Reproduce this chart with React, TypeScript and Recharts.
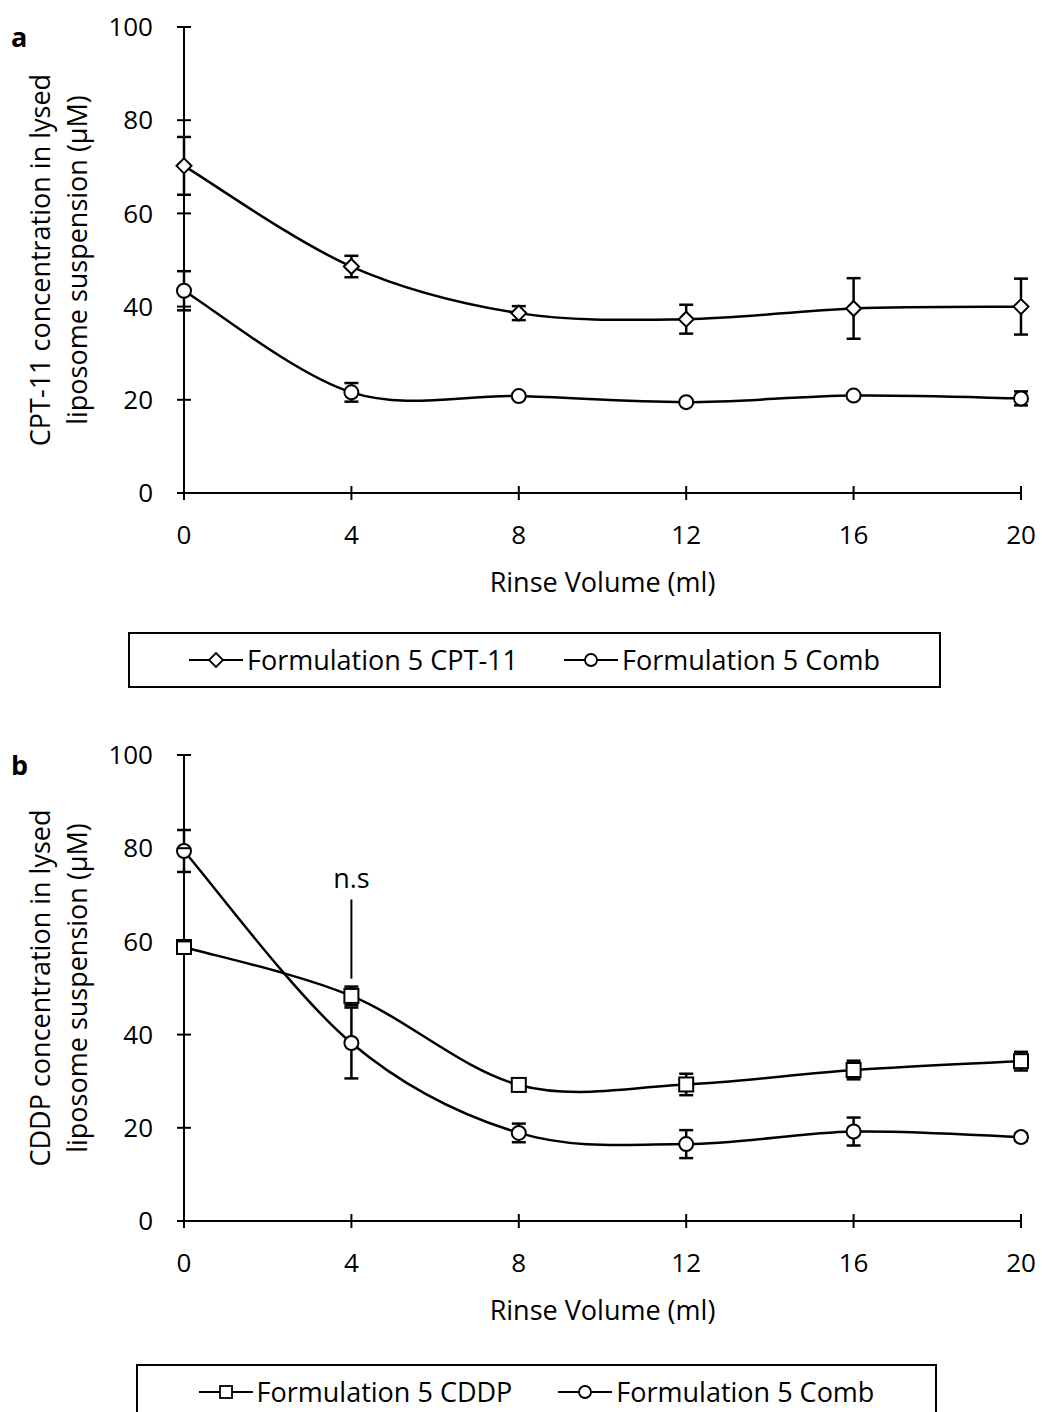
import React from "react";
import {
  LineChart,
  Line,
  XAxis,
  YAxis,
  ErrorBar,
  ReferenceLine,
  ReferenceDot,
} from "recharts";

const rinseVolume = [0, 4, 8, 12, 16, 20];
const xTicks = [0, 4, 8, 12, 16, 20];
const yTicks = [0, 20, 40, 60, 80, 100];

// panel a
const cpt11 = [70.2, 48.6, 38.6, 37.3, 39.6, 40.0];
const cpt11Err = [6.2, 2.3, 1.5, 3.1, 6.5, 6.0];
const combA = [43.4, 21.6, 20.8, 19.5, 20.9, 20.3];
const combAErr = [4.2, 2.0, 0.6, 0.4, 0.5, 1.5];

// panel b
const cddp = [58.8, 48.3, 29.2, 29.3, 32.4, 34.3];
const cddpErr = [1.0, 2.0, 0.8, 2.3, 2.0, 2.0];
const combB = [79.4, 38.2, 18.9, 16.5, 19.2, 18.0];
const combBErr = [4.5, 7.6, 2.0, 3.0, 3.0, 0.8];

const dataA = rinseVolume.map((x, i) => ({
  x,
  cpt11: cpt11[i],
  cpt11Err: cpt11Err[i],
  comb: combA[i],
  combErr: combAErr[i],
}));
const dataB = rinseVolume.map((x, i) => ({
  x,
  cddp: cddp[i],
  cddpErr: cddpErr[i],
  comb: combB[i],
  combErr: combBErr[i],
}));

const FONT = "'Open Sans', sans-serif";

// smoothed line like a spreadsheet "smoothed line"
const smooth = (context: any) => {
  let pts: number[][] = [];
  return {
    areaStart() {},
    areaEnd() {},
    lineStart() {
      pts = [];
    },
    point(x: number, y: number) {
      pts.push([+x, +y]);
    },
    lineEnd() {
      const n = pts.length;
      if (!n) return;
      context.moveTo(pts[0][0], pts[0][1]);
      for (let i = 0; i < n - 1; i++) {
        const p0 = pts[Math.max(i - 1, 0)];
        const p1 = pts[i];
        const p2 = pts[i + 1];
        const p3 = pts[Math.min(i + 2, n - 1)];
        context.bezierCurveTo(
          p1[0] + (p2[0] - p0[0]) / 6,
          p1[1] + (p2[1] - p0[1]) / 6,
          p2[0] - (p3[0] - p1[0]) / 6,
          p2[1] - (p3[1] - p1[1]) / 6,
          p2[0],
          p2[1]
        );
      }
    },
  };
};

const Diamond = (props: any) => {
  const { cx, cy, index } = props;
  const r = 7.5;
  return (
    <path
      key={`d-${index}`}
      d={`M${cx},${cy - r}L${cx + r},${cy}L${cx},${cy + r}L${cx - r},${cy}Z`}
      fill="#fff"
      stroke="#000"
      strokeWidth={2}
    />
  );
};
const Circle = (props: any) => {
  const { cx, cy, index } = props;
  return <circle key={`c-${index}`} cx={cx} cy={cy} r={7} fill="#fff" stroke="#000" strokeWidth={2} />;
};
const Square = (props: any) => {
  const { cx, cy, index } = props;
  return (
    <rect key={`s-${index}`} x={cx - 7} y={cy - 7} width={14} height={14} fill="#fff" stroke="#000" strokeWidth={2} />
  );
};

const YTick = (props: any) => {
  const { x, y, payload } = props;
  return (
    <g>
      <line x1={x - 7} x2={x + 7} y1={y} y2={y} stroke="#000" strokeWidth={2} />
      <text x={x - 31} y={y} dy="0.35em" textAnchor="end" fontSize={26} fontFamily={FONT} fill="#000">
        {payload.value}
      </text>
    </g>
  );
};
const XTick = (props: any) => {
  const { x, y, payload } = props;
  return (
    <g>
      <line x1={x} x2={x} y1={y - 7} y2={y + 7} stroke="#000" strokeWidth={2} />
      <text x={x} y={y + 42} dy="0.35em" textAnchor="middle" fontSize={26} fontFamily={FONT} fill="#000">
        {payload.value}
      </text>
    </g>
  );
};

const yLabel = (line1: string, line2: string, cy: number) => () =>
  (
    <g fontSize={27} fontFamily={FONT} fill="#000">
      <text x={50} y={cy} transform={`rotate(-90 50 ${cy})`} textAnchor="middle">
        {line1}
      </text>
      <text x={87} y={cy} transform={`rotate(-90 87 ${cy})`} textAnchor="middle">
        {line2}
      </text>
    </g>
  );

const xLabel = (cy: number) => () =>
  (
    <text x={602.5} y={cy} textAnchor="middle" dominantBaseline="central" fontSize={27} fontFamily={FONT} fill="#000">
      Rinse Volume (ml)
    </text>
  );

const LegendIcon = ({ shape }: { shape: string }) => (
  <svg width={54} height={20} style={{ marginRight: 4 }}>
    <line x1={0} x2={54} y1={10} y2={10} stroke="#000" strokeWidth={2} />
    {shape === "diamond" && <path d="M27,3L34,10L27,17L20,10Z" fill="#fff" stroke="#000" strokeWidth={1.8} />}
    {shape === "circle" && <circle cx={27} cy={10} r={6} fill="#fff" stroke="#000" strokeWidth={1.8} />}
    {shape === "square" && <rect x={21} y={4} width={12} height={12} fill="#fff" stroke="#000" strokeWidth={1.8} />}
  </svg>
);

const LegendBox = ({
  items,
  left,
  top,
  width,
}: {
  items: { shape: string; label: string }[];
  left: number;
  top: number;
  width: number;
}) => (
  <div
    style={{
      position: "absolute",
      left,
      top,
      width,
      height: 56,
      boxSizing: "border-box",
      border: "2px solid #000",
      display: "flex",
      alignItems: "center",
      justifyContent: "center",
      gap: 46,
      fontFamily: FONT,
      fontSize: 27,
      lineHeight: "30px",
      color: "#000",
    }}
  >
    {items.map((it) => (
      <div key={it.label} style={{ display: "flex", alignItems: "center" }}>
        <LegendIcon shape={it.shape} />
        <span>{it.label}</span>
      </div>
    ))}
  </div>
);

const panelLetter = (letter: string, top: number) => (
  <div
    style={{
      position: "absolute",
      left: 11,
      top,
      fontFamily: FONT,
      fontWeight: 700,
      fontSize: 27,
      lineHeight: "30px",
      color: "#000",
    }}
  >
    {letter}
  </div>
);

export default function App() {
  return (
    <div style={{ position: "absolute", left: 0, top: 0, width: 1042, height: 1412, overflow: "hidden", background: "#fff" }}>
      {panelLetter("a", 22)}
      <div style={{ position: "absolute", left: 0, top: 0 }}>
        <LineChart width={1042} height={610} data={dataA} margin={{ top: 27, right: 21, bottom: 17, left: 0 }}>
          <XAxis
            dataKey="x"
            type="number"
            domain={[0, 20]}
            ticks={xTicks}
            tick={<XTick />}
            tickSize={0}
            tickMargin={0}
            tickLine={false}
            height={100}
            axisLine={{ stroke: "#000", strokeWidth: 2 }}
            label={{ content: xLabel(581) }}
          />
          <YAxis
            type="number"
            domain={[0, 100]}
            ticks={yTicks}
            tick={<YTick />}
            tickSize={0}
            tickMargin={0}
            tickLine={false}
            width={184}
            axisLine={{ stroke: "#000", strokeWidth: 2 }}
            label={{ content: yLabel("CPT-11 concentration in lysed", "liposome suspension (µM)", 260) }}
          />
          <Line dataKey="cpt11" type={smooth as any} stroke="#000" strokeWidth={2.5} dot={Diamond} isAnimationActive={false}>
            <ErrorBar dataKey="cpt11Err" direction="y" width={7} stroke="#000" strokeWidth={2.5} />
          </Line>
          <Line dataKey="comb" type={smooth as any} stroke="#000" strokeWidth={2.5} dot={Circle} isAnimationActive={false}>
            <ErrorBar dataKey="combErr" direction="y" width={7} stroke="#000" strokeWidth={2.5} />
          </Line>
        </LineChart>
      </div>
      <LegendBox
        left={128}
        top={632}
        width={813}
        items={[
          { shape: "diamond", label: "Formulation 5 CPT-11" },
          { shape: "circle", label: "Formulation 5 Comb" },
        ]}
      />

      {panelLetter("b", 750)}
      <div style={{ position: "absolute", left: 0, top: 700 }}>
        <LineChart width={1042} height={638} data={dataB} margin={{ top: 55, right: 21, bottom: 17, left: 0 }}>
          <XAxis
            dataKey="x"
            type="number"
            domain={[0, 20]}
            ticks={xTicks}
            tick={<XTick />}
            tickSize={0}
            tickMargin={0}
            tickLine={false}
            height={100}
            axisLine={{ stroke: "#000", strokeWidth: 2 }}
            label={{ content: xLabel(609) }}
          />
          <YAxis
            type="number"
            domain={[0, 100]}
            ticks={yTicks}
            tick={<YTick />}
            tickSize={0}
            tickMargin={0}
            tickLine={false}
            width={184}
            axisLine={{ stroke: "#000", strokeWidth: 2 }}
            label={{ content: yLabel("CDDP concentration in lysed", "liposome suspension (µM)", 288) }}
          />
          <ReferenceLine
            segment={[
              { x: 4, y: 52 },
              { x: 4, y: 69 },
            ]}
            stroke="#000"
            strokeWidth={2}
          />
          <ReferenceDot
            x={4}
            y={73.5}
            r={0}
            stroke="none"
            fill="none"
            label={{ value: "n.s", position: "center", fontSize: 27, fontFamily: FONT, fill: "#000" }}
          />
          <Line dataKey="cddp" type={smooth as any} stroke="#000" strokeWidth={2.5} dot={Square} isAnimationActive={false}>
            <ErrorBar dataKey="cddpErr" direction="y" width={7} stroke="#000" strokeWidth={2.5} />
          </Line>
          <Line dataKey="comb" type={smooth as any} stroke="#000" strokeWidth={2.5} dot={Circle} isAnimationActive={false}>
            <ErrorBar dataKey="combErr" direction="y" width={7} stroke="#000" strokeWidth={2.5} />
          </Line>
        </LineChart>
      </div>
      <LegendBox
        left={136}
        top={1364}
        width={801}
        items={[
          { shape: "square", label: "Formulation 5 CDDP" },
          { shape: "circle", label: "Formulation 5 Comb" },
        ]}
      />
    </div>
  );
}
